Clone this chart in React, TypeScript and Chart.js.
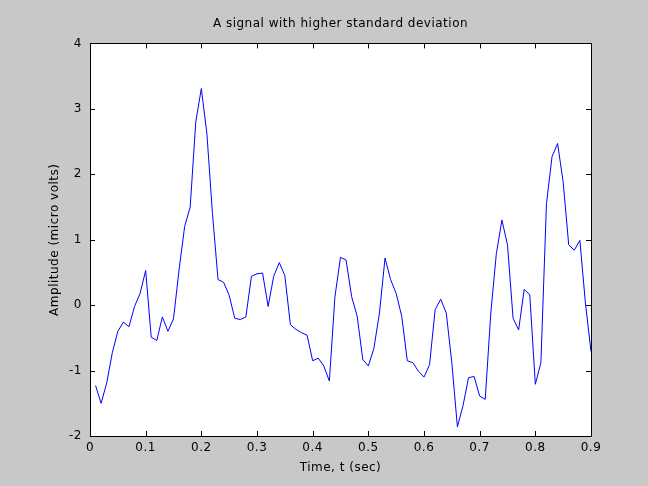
import React, { useEffect, useRef } from "react";
import { Chart, registerables } from "chart.js";

Chart.register(...registerables);

const timeSec: number[] = [
  0.01, 0.02, 0.03, 0.04, 0.05, 0.06, 0.07, 0.08, 0.09, 0.1,
  0.11, 0.12, 0.13, 0.14, 0.15, 0.16, 0.17, 0.18, 0.19, 0.2,
  0.21, 0.22, 0.23, 0.24, 0.25, 0.26, 0.27, 0.28, 0.29, 0.3,
  0.31, 0.32, 0.33, 0.34, 0.35, 0.36, 0.37, 0.38, 0.39, 0.4,
  0.41, 0.42, 0.43, 0.44, 0.45, 0.46, 0.47, 0.48, 0.49, 0.5,
  0.51, 0.52, 0.53, 0.54, 0.55, 0.56, 0.57, 0.58, 0.59, 0.6,
  0.61, 0.62, 0.63, 0.64, 0.65, 0.66, 0.67, 0.68, 0.69, 0.7,
  0.71, 0.72, 0.73, 0.74, 0.75, 0.76, 0.77, 0.78, 0.79, 0.8,
  0.81, 0.82, 0.83, 0.84, 0.85, 0.86, 0.87, 0.88, 0.89, 0.9,
];

const amplitude: number[] = [
  -1.23, -1.5, -1.19, -0.73, -0.4, -0.26, -0.33, -0.02, 0.18, 0.53,
  -0.49, -0.54, -0.18, -0.4, -0.21, 0.54, 1.2, 1.5, 2.8, 3.31,
  2.62, 1.4, 0.39, 0.35, 0.15, -0.2, -0.22, -0.18, 0.44, 0.48,
  0.49, -0.02, 0.44, 0.65, 0.45, -0.3, -0.37, -0.42, -0.46, -0.85,
  -0.81, -0.93, -1.16, 0.13, 0.73, 0.69, 0.13, -0.17, -0.83, -0.93,
  -0.66, -0.12, 0.72, 0.39, 0.18, -0.17, -0.85, -0.88, -1.01, -1.1,
  -0.91, -0.07, 0.09, -0.12, -0.88, -1.86, -1.54, -1.11, -1.09, -1.39,
  -1.44, -0.12, 0.79, 1.3, 0.92, -0.2, -0.38, 0.24, 0.16, -1.21,
  -0.88, 1.55, 2.27, 2.47, 1.88, 0.92, 0.84, 0.99, 0.03, -0.71,
];

const xTicks: number[] = [0, 0.1, 0.2, 0.3, 0.4, 0.5, 0.6, 0.7, 0.8, 0.9];
const yTicks: number[] = [-2, -1, 0, 1, 2, 3, 4];

const chartTitle = "A signal with higher standard deviation";
const xTitle = "Time, t (sec)";
const yTitle = "Amplitude (micro volts)";

const FONT = "'DejaVu Sans', Verdana, sans-serif";

const boxPlugin = {
  id: "matlabBox",
  afterDraw(chart: any) {
    const { ctx, chartArea, scales } = chart;
    const { left, right, top, bottom } = chartArea;
    const xs = scales.x;
    const ys = scales.y;
    const tl = 5;
    ctx.save();
    ctx.strokeStyle = "#000";
    ctx.lineWidth = 1;
    ctx.beginPath();
    ctx.rect(Math.round(left) + 0.5, Math.round(top) + 0.5, Math.round(right - left), Math.round(bottom - top));
    for (const v of xTicks) {
      const px = Math.round(xs.getPixelForValue(v)) + 0.5;
      ctx.moveTo(px, bottom);
      ctx.lineTo(px, bottom - tl);
      ctx.moveTo(px, top);
      ctx.lineTo(px, top + tl);
    }
    for (const v of yTicks) {
      const py = Math.round(ys.getPixelForValue(v)) + 0.5;
      ctx.moveTo(left, py);
      ctx.lineTo(left + tl, py);
      ctx.moveTo(right, py);
      ctx.lineTo(right - tl, py);
    }
    ctx.stroke();
    ctx.restore();
  },
};

const plotBgPlugin = {
  id: "plotBg",
  beforeDraw(chart: any) {
    const { ctx, chartArea } = chart;
    const { left, right, top, bottom } = chartArea;
    ctx.letterSpacing = "0.5px";
    ctx.save();
    ctx.fillStyle = "#c8c8c8";
    ctx.fillRect(0, 0, chart.width, chart.height);
    ctx.fillStyle = "#ffffff";
    ctx.fillRect(left, top, right - left, bottom - top);
    ctx.restore();
  },
};

export default function App() {
  const ref = useRef<HTMLCanvasElement | null>(null);

  useEffect(() => {
    if (!ref.current) return;
    const data = timeSec.map((t, i) => ({ x: t, y: amplitude[i] }));
    const chart = new Chart(ref.current, {
      type: "line",
      data: {
        datasets: [
          {
            data,
            borderColor: "#0000ff",
            borderWidth: 1,
            pointRadius: 0,
            tension: 0,
            fill: false,
          },
        ],
      },
      options: {
        animation: false,
        responsive: false,
        maintainAspectRatio: false,
        layout: { padding: { left: 0, right: 57, top: 0, bottom: 0 } },
        plugins: {
          legend: { display: false },
          tooltip: { enabled: false },
          title: {
            display: true,
            fullSize: false,
            text: chartTitle,
            color: "#000",
            font: { family: FONT, size: 12, weight: "normal", lineHeight: 1.2 },
            padding: { top: 17, bottom: 12 },
          },
        },
        scales: {
          x: {
            type: "linear",
            min: 0,
            max: 0.9,
            afterBuildTicks(scale: any) {
              scale.ticks = xTicks.map((v) => ({ value: v }));
            },
            afterFit(scale: any) {
              scale.height = 50;
            },
            ticks: {
              color: "#000",
              font: { family: FONT, size: 12 },
              padding: 5,
              maxRotation: 0,
              autoSkip: false,
              callback: (v: any) => String(Math.round(Number(v) * 10) / 10),
            },
            grid: { display: false, drawTicks: false },
            border: { display: false },
            title: {
              display: true,
              text: xTitle,
              color: "#000",
              font: { family: FONT, size: 12 },
              padding: { top: 0, bottom: 11 },
            },
          },
          y: {
            type: "linear",
            min: -2,
            max: 4,
            afterBuildTicks(scale: any) {
              scale.ticks = yTicks.map((v) => ({ value: v }));
            },
            afterFit(scale: any) {
              scale.width = 90;
            },
            ticks: {
              color: "#000",
              font: { family: FONT, size: 12 },
              padding: 8,
              autoSkip: false,
              callback: (v: any) => String(v),
            },
            grid: { display: false, drawTicks: false },
            border: { display: false },
            title: {
              display: true,
              text: yTitle,
              color: "#000",
              font: { family: FONT, size: 12 },
              padding: { top: 48, bottom: 0 },
            },
          },
        },
      },
      plugins: [plotBgPlugin, boxPlugin],
    } as any);
    return () => chart.destroy();
  }, []);

  return (
    <div
      style={{
        position: "fixed",
        left: 0,
        top: 0,
        width: 648,
        height: 486,
        background: "#c8c8c8",
      }}
    >
      <canvas ref={ref} width={648} height={486} style={{ display: "block" }} />
    </div>
  );
}
